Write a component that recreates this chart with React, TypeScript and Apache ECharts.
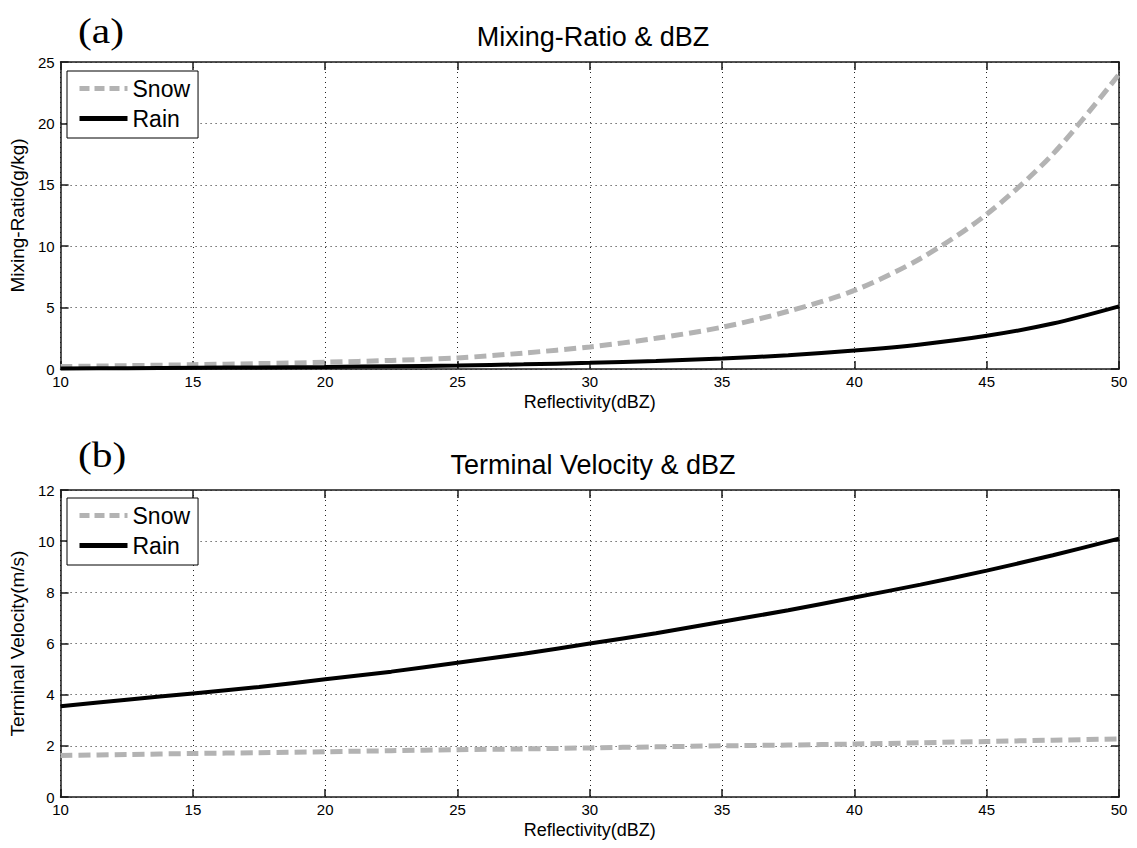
import React, { useEffect, useRef } from "react";
import * as echarts from "echarts";

// Reflectivity (dBZ) sample points
const dbz = [10, 12.5, 15, 17.5, 20, 22.5, 25, 27.5, 30, 32.5, 35, 37.5, 40, 42.5, 45, 47.5, 50];

// (a) Mixing ratio (g/kg)
const snowMix = [0.2, 0.27, 0.35, 0.44, 0.55, 0.7, 0.9, 1.3, 1.8, 2.5, 3.4, 4.7, 6.4, 9.0, 12.6, 17.5, 24.0];
const rainMix = [0.05, 0.07, 0.1, 0.13, 0.17, 0.22, 0.28, 0.38, 0.5, 0.65, 0.85, 1.12, 1.5, 2.0, 2.7, 3.7, 5.1];

// (b) Terminal velocity (m/s)
const snowVel = [1.62, 1.66, 1.7, 1.73, 1.77, 1.81, 1.85, 1.88, 1.92, 1.96, 2.0, 2.03, 2.07, 2.12, 2.17, 2.22, 2.27];
const rainVel = [3.55, 3.8, 4.05, 4.3, 4.6, 4.9, 5.25, 5.6, 6.0, 6.4, 6.85, 7.3, 7.8, 8.3, 8.85, 9.45, 10.1];

const titles = ["Mixing-Ratio & dBZ", "Terminal Velocity & dBZ"];
const yNames = ["Mixing-Ratio(g/kg)", "Terminal Velocity(m/s)"];
const xName = "Reflectivity(dBZ)";
const panelLabels = ["(a)", "(b)"];
const seriesNames = ["Snow", "Rain"];

const SANS = "Arial, 'Liberation Sans', Helvetica, sans-serif";
const SERIF = "'Times New Roman', 'Liberation Serif', serif";
const AX = "#1a1a1a";

export default function App() {
  const ref = useRef<HTMLDivElement>(null);
  useEffect(() => {
    document.body.style.margin = "0";
    const chart = echarts.init(ref.current!, null, { renderer: "svg" });
    const pair = (ys: number[]) => dbz.map((x, i) => [x, ys[i]]);

    const grids = [
      { left: 59, top: 62, width: 1060, height: 307 },
      { left: 59, top: 490, width: 1060, height: 307 },
    ];
    const yRanges = [
      { max: 25, interval: 5 },
      { max: 12, interval: 2 },
    ];

    const xAxis: any[] = [];
    const yAxis: any[] = [];
    [0, 1].forEach((g) => {
      xAxis.push({
        type: "value", gridIndex: g, min: 10, max: 50, interval: 5, position: "bottom",
        name: xName, nameLocation: "middle", nameGap: 24,
        nameTextStyle: { fontFamily: SANS, fontSize: 18, color: "#000" },
        axisLine: { show: true, onZero: false, lineStyle: { color: AX, width: 1.5 } },
        axisTick: { show: true, inside: true, length: 8, lineStyle: { color: AX, width: 1.5 } },
        axisLabel: { fontFamily: SANS, fontSize: 15, color: "#000", margin: 5 },
        splitLine: { show: true, lineStyle: { color: "#222", width: 1, type: [1, 4] } },
      });
      xAxis.push({
        type: "value", gridIndex: g, min: 10, max: 50, interval: 5, position: "top",
        axisLine: { show: true, onZero: false, lineStyle: { color: AX, width: 1.5 } },
        axisTick: { show: true, inside: true, length: 8, lineStyle: { color: AX, width: 1.5 } },
        axisLabel: { show: false },
        splitLine: { show: false },
      });
      yAxis.push({
        type: "value", gridIndex: g, min: 0, max: yRanges[g].max, interval: yRanges[g].interval, position: "left",
        name: yNames[g], nameLocation: "middle", nameGap: 30,
        nameTextStyle: { fontFamily: SANS, fontSize: 19, color: "#000" },
        axisLine: { show: true, onZero: false, lineStyle: { color: AX, width: 1.5 } },
        axisTick: { show: true, inside: true, length: 8, lineStyle: { color: AX, width: 1.5 } },
        axisLabel: { fontFamily: SANS, fontSize: 15, color: "#000", margin: 6 },
        splitLine: { show: true, lineStyle: { color: "#222", width: 1, type: [1, 4] } },
      });
      yAxis.push({
        type: "value", gridIndex: g, min: 0, max: yRanges[g].max, interval: yRanges[g].interval, position: "right",
        axisLine: { show: true, onZero: false, lineStyle: { color: AX, width: 1.5 } },
        axisTick: { show: true, inside: true, length: 8, lineStyle: { color: AX, width: 1.5 } },
        axisLabel: { show: false },
        splitLine: { show: false },
      });
    });

    const snowStyle = { color: "#b3b3b3", width: 5, type: [12, 6] as any };
    const rainStyle = { color: "#000", width: 4, type: "solid" as any };
    const mk = (name: string, data: number[], g: number, style: any, z: number) => ({
      type: "line", name, xAxisIndex: g * 2, yAxisIndex: g * 2, data: pair(data),
      showSymbol: false, symbol: "none", smooth: 0.3, lineStyle: style,
      itemStyle: { color: style.color }, z,
    });

    const legend = (top: number) => ({
      left: 67, top, orient: "vertical",
      data: [
        { name: seriesNames[0], lineStyle: { width: 5, color: "#b3b3b3", type: [10, 5] } },
        { name: seriesNames[1], lineStyle: { width: 5, color: "#000", type: "solid" } },
      ],
      itemWidth: 48, itemHeight: 20, itemGap: 7,
      padding: [6, 8, 8, 10], borderColor: "#000", borderWidth: 1, backgroundColor: "#fff",
      textStyle: { fontFamily: SANS, fontSize: 23, color: "#000" },
      itemStyle: { opacity: 0 },
      selectedMode: false,
    });

    chart.setOption({
      animation: false,
      backgroundColor: "#fff",
      grid: grids,
      xAxis,
      yAxis,
      title: [
        { text: titles[0], left: 588, top: 18, textAlign: "center",
          textStyle: { fontFamily: SANS, fontSize: 27, fontWeight: "normal", color: "#000" } },
        { text: titles[1], left: 588, top: 446, textAlign: "center",
          textStyle: { fontFamily: SANS, fontSize: 27, fontWeight: "normal", color: "#000" } },
      ],
      legend: [legend(71), legend(498)],
      series: [
        mk(seriesNames[0], snowMix, 0, snowStyle, 3),
        mk(seriesNames[1], rainMix, 0, rainStyle, 4),
        mk(seriesNames[0], snowVel, 1, snowStyle, 3),
        mk(seriesNames[1], rainVel, 1, rainStyle, 4),
      ],
      graphic: [
        { type: "text", left: 78, top: 12, scaleX: 1.15,
          style: { text: panelLabels[0], font: `36px ${SERIF}`, fill: "#000" } },
        { type: "text", left: 78, top: 436, scaleX: 1.15,
          style: { text: panelLabels[1], font: `36px ${SERIF}`, fill: "#000" } },
      ],
    });
    return () => chart.dispose();
  }, []);
  return <div ref={ref} style={{ width: 1137, height: 848 }} />;
}
